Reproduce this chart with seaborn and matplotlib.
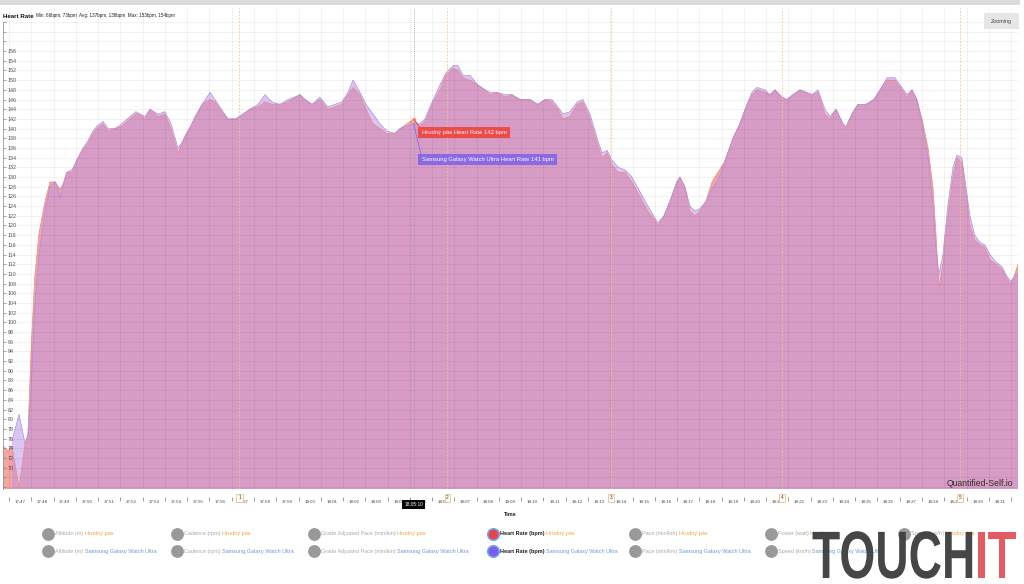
import numpy as np
import pandas as pd
import matplotlib
matplotlib.use("Agg")
import matplotlib.pyplot as plt
from matplotlib.patches import Rectangle
from matplotlib.lines import Line2D
from matplotlib.patheffects import AbstractPathEffect
import matplotlib.transforms as mtransforms
import seaborn as sns

# ---------------- data (minutes after 17:47:00) ----------------
minutes = [-0.27, -0.04, 0.13, 0.45, 0.72, 0.85, 0.99, 1.15, 1.35, 1.62, 1.84, 2.07, 2.20, 2.29, 2.42,
           2.60, 2.83, 3.10, 3.32, 3.55, 3.77, 3.95, 4.22, 4.45, 4.76, 5.07, 5.43, 5.70, 5.88, 6.11,
           6.33, 6.69, 7.00, 7.27, 7.59, 7.90, 8.35, 8.67, 9.03, 9.25, 9.47, 9.83, 10.19, 10.51, 10.82,
           11.18, 11.50, 11.81, 12.17, 12.53, 12.84, 13.07, 13.29, 13.61, 13.96, 14.32, 14.64, 14.95,
           15.22, 15.45, 15.76, 16.03, 16.35, 16.66, 16.97, 17.33, 17.56, 17.87, 18.17, 18.45, 18.68,
           19.00, 19.35, 19.62, 19.94, 20.16, 20.39, 20.70, 21.06, 21.37, 21.60, 21.91, 22.27, 22.59,
           22.95, 23.39, 23.75, 24.07, 24.38, 24.65, 24.88, 25.19, 25.51, 25.77, 26.09, 26.41, 26.63,
           26.86, 27.08, 27.35, 27.66, 27.97, 28.33, 28.69, 29.01, 29.14, 29.41, 29.68, 29.99, 30.13,
           30.35, 30.58, 30.80, 31.03, 31.30, 31.57, 31.84, 32.11, 32.51, 32.82, 33.14, 33.36, 33.59,
           33.95, 34.17, 34.40, 34.71, 34.93, 35.20, 35.52, 35.79, 36.06, 36.33, 36.64, 36.87, 37.14,
           37.45, 37.59, 37.85, 38.12, 38.48, 38.84, 39.11, 39.43, 39.78, 40.10, 40.32, 40.55, 40.77,
           41.00, 41.27, 41.49, 41.63, 41.76, 41.94, 42.16, 42.39, 42.57, 42.79, 42.97, 43.15, 43.37,
           43.60, 43.82, 44.05, 44.32, 44.59, 44.81, 44.99, 45.17, 45.31]

hr_chest = [74.5, 73.5, 74.5, 66, 75, 77, 94, 109, 118.5, 125, 129, 129, 128, 127.5, 128.5,
            131, 131, 134, 135.6, 137, 139, 140, 141, 139.5, 140, 140.5, 142, 143, 143, 142,
            144, 142.5, 143, 140, 135, 138.5, 142, 145, 146, 145.5, 144, 142, 142, 143, 144,
            144.5, 145.5, 145, 145, 145.5, 146.5, 147, 146, 145, 146, 144, 144.5, 145,
            147, 148.5, 147, 144, 141, 140, 139, 139, 140, 141, 142, 140.5, 141.5,
            145, 148, 151, 152.5, 152, 150.5, 150, 149, 148, 147, 147.5, 146.5, 147,
            146, 146, 145, 146, 145.5, 144, 142, 142.5, 145, 145.5, 142, 137, 134,
            135, 132.5, 131, 131, 129, 126, 123, 121, 120, 122, 125, 129, 130,
            128, 123, 122, 123, 125, 129, 131, 133, 138, 141, 145, 147, 148,
            147.5, 147, 148, 146.5, 146, 147, 148, 147.5, 147, 147.5, 143, 142, 144,
            141, 140, 143, 145, 145, 146, 148, 150, 150, 148, 146.5, 148, 146,
            142, 136, 128, 118, 107, 112, 122, 130, 134, 133, 127, 120, 117,
            116, 115.5, 113, 112, 111, 109, 108, 110, 112]

hr_watch = [np.nan, np.nan, 75.5, 81, 75, 76.5, 86, 103, 114, 123, 128, 129, 128, 125.5, 128,
            131, 131.5, 134, 136, 137.5, 139.5, 140.5, 141.5, 140, 140, 141, 142.5, 143.5, 143, 142.5,
            144, 143, 143.5, 141, 136, 138, 142.5, 145, 147.5, 146, 144.5, 142, 142, 143, 144,
            145, 147, 145.5, 145, 146, 146.5, 147, 146, 145, 146.5, 144.5, 145, 145.5,
            147.5, 150, 147.5, 145, 143, 141, 139.5, 139, 140, 140.5, 141, 141, 142,
            145.5, 149, 151.5, 153, 153, 151, 151, 149, 148, 147.5, 147.5, 147, 147,
            146, 146, 145, 146, 146, 144.5, 143, 143.5, 145.5, 146, 143, 138, 135,
            135.5, 133.5, 132, 131.5, 130, 127, 124, 121.5, 120.5, 122, 125, 129, 130,
            128, 124, 123, 123.5, 125, 127.5, 129.5, 132.5, 138, 141, 145, 147.5, 148.5,
            148, 147, 148, 146.5, 146, 147, 148, 147.5, 147, 148, 144, 142.5, 144,
            141, 140.5, 143, 145, 145, 146, 148, 150.5, 150.5, 148.5, 147, 148, 146,
            141, 134, 124, 115, 110, 114, 124, 132, 134.5, 134, 128, 122, 118,
            116.5, 116, 114, 112.5, 111.5, 109.5, 108.5, 109.5, 110]

x_labels = ["17:47", "17:48", "17:49", "17:50", "17:51", "17:52", "17:53", "17:54", "17:55", "17:56",
            "17:57", "17:58", "17:59", "18:00", "18:01", "18:02", "18:03", "18:04", "18:05", "18:06",
            "18:07", "18:08", "18:09", "18:10", "18:11", "18:12", "18:13", "18:14", "18:15", "18:16",
            "18:17", "18:18", "18:19", "18:20", "18:21", "18:22", "18:23", "18:24", "18:25", "18:26",
            "18:27", "18:28", "18:29", "18:30", "18:31"]
y_labeled = list(range(70, 157, 2))
y_unlabeled = [66, 68, 158, 160, 162]

lap_minutes = [10.35, 19.69, 27.03, 34.71, 42.70]
lap_names = ["1", "2", "3", "4", "5"]
cursor_minute = 18.17
cursor_label = "18:05:10"
cursor_chest = 142
cursor_watch = 141

title_main = "Heart Rate"
title_stats = "Min: 66bpm, 73bpm  Avg: 137bpm, 138bpm  Max: 153bpm, 154bpm"
legend_metrics = ["Altitude (m)", "Cadence (rpm)", "Grade Adjusted Pace (min/km)", "Heart Rate (bpm)",
                  "Pace (min/km)", "Power (watt)", "Speed (km/h)"]
legend_row2 = ["Altitude (m)", "Cadence (rpm)", "Grade Adjusted Pace (min/km)", "Heart Rate (bpm)",
               "Pace (min/km)", "Speed (km/h)"]
device_a = "Hrudný pás"
device_b = "Samsung Galaxy Watch Ultra"

# ---------------- style ----------------
sns.set_theme(style="white")
plt.rcParams['font.family'] = ['Liberation Sans', 'DejaVu Sans']

W, H = 1024, 584
fig = plt.figure(figsize=(W / 100, H / 100), dpi=100)
fig.patch.set_facecolor("white")
L, T, R, B = 3, 8, 1018, 489
ax = fig.add_axes([L / W, 1 - B / H, (R - L) / W, (B - T) / H])
ax.set_facecolor("white")

df = pd.DataFrame({"minute": minutes, "chest": hr_chest, "watch": hr_watch})
mw = df["watch"].notna()

chest_fill = (238 / 255, 90 / 255, 80 / 255)
watch_fill = (190 / 255, 150 / 255, 232 / 255)
ax.fill_between(df["minute"], 0, df["chest"], color=chest_fill, alpha=0.55, lw=0, zorder=1)
ax.fill_between(df["minute"][mw], 0, df["watch"][mw], color=watch_fill, alpha=0.55, lw=0, zorder=1.1)
sns.lineplot(data=df, x="minute", y="chest", color="#f08a80", lw=0.5, ax=ax, zorder=2,
             estimator=None, sort=False)
sns.lineplot(data=df[mw], x="minute", y="watch", color="#a990ea", lw=0.5, ax=ax, zorder=2.1,
             estimator=None, sort=False)

ax.set_xlim(-0.27, 45.31)
ax.set_ylim(65.6, 164.9)
ax.set_xlabel("")
ax.set_ylabel("")
ax.set_axisbelow(False)

for s in ["top", "right"]:
    ax.spines[s].set_visible(False)
ax.spines["left"].set_color("#9a9a9a")
ax.spines["left"].set_linewidth(0.6)
ax.spines["left"].set_bounds(65.6, 162)
ax.spines["bottom"].set_position(("outward", 6))
ax.spines["bottom"].set_visible(False)
ax.axhline(65.6, color="#9a9a9a", lw=0.8, zorder=3)

ax.set_xticks(list(range(0, 46)))
ax.set_xticklabels([])
ax.set_xticks([i + 0.5 for i in range(len(x_labels))], minor=True)
ax.set_xticklabels(x_labels, minor=True, fontsize=3.2, color="#444444")
ax.tick_params(axis="x", which="major", direction="out", length=3, width=0.5, color="#777777",
               bottom=True)
ax.tick_params(axis="x", which="minor", length=0, pad=2.0, bottom=True)

yt = sorted(y_labeled + y_unlabeled)
ax.set_yticks(yt)
ax.set_yticklabels([str(v) if v in y_labeled else "" for v in yt], fontsize=3.9, color="#555555")
ax.tick_params(axis="y", which="major", direction="in", length=2.5, width=0.5, color="#888888",
               pad=-3.2, left=True)
for lab in ax.get_yticklabels():
    lab.set_horizontalalignment("left")

ax.grid(True, which="major", axis="both", color="#000000", alpha=0.07, lw=0.5)

# lap markers
trans_lap = mtransforms.blended_transform_factory(ax.transData, ax.transAxes)
for lm, ln in zip(lap_minutes, lap_names):
    ax.axvline(lm, color="#efc48c", lw=0.6, ls=(0, (2, 2)), zorder=2.6)
    ax.text(lm, -0.018, ln, transform=trans_lap, ha="center", va="center", fontsize=3.4,
            color="#333333", zorder=5, clip_on=False,
            bbox=dict(boxstyle="square,pad=0.35", fc="white", ec="#f0b070", lw=0.5))

# cursor
ax.axvline(cursor_minute, color="#999999", lw=0.6, ls=(0, (1, 1.5)), zorder=2.7)
ax.text(cursor_minute, -0.032, cursor_label, transform=trans_lap, ha="center", va="center",
        fontsize=3.4, color="white", zorder=6, clip_on=False,
        bbox=dict(boxstyle="square,pad=0.5", fc="black", ec="none"))
ax.plot([cursor_minute], [cursor_chest], marker="s", ms=1.6, color="#f6a36a", zorder=6)
ax.annotate("Hrudný pás Heart Rate 142 bpm", xy=(cursor_minute, cursor_chest),
            xytext=(8, -11), textcoords="offset pixels", ha="left", va="top", fontsize=4.2,
            color="white", zorder=7,
            bbox=dict(boxstyle="square,pad=0.55", fc="#ee4a4a", ec="none"),
            arrowprops=dict(arrowstyle="-", color="#ee4a4a", lw=0.6, shrinkA=0, shrinkB=0,
                            relpos=(0, 1)))
ax.annotate("Samsung Galaxy Watch Ultra Heart Rate 141 bpm", xy=(cursor_minute, cursor_watch),
            xytext=(8, -33), textcoords="offset pixels", ha="left", va="top", fontsize=4.2,
            color="white", zorder=7,
            bbox=dict(boxstyle="square,pad=0.55", fc="#8a68e6", ec="none"),
            arrowprops=dict(arrowstyle="-", color="#8a68e6", lw=0.6, shrinkA=0, shrinkB=0,
                            relpos=(0, 1)))

ax.text(0.995, 0.012, "Quantified-Self.io", transform=ax.transAxes, ha="right", va="center",
        fontsize=6.2, color="#2e2e2e", zorder=6)

# ---------------- figure-level decorations ----------------
def fx(x):
    return x / W


def fy(y):
    return 1 - y / H


fig.patches.append(Rectangle((0, fy(5)), fx(1020), 5 / H, transform=fig.transFigure,
                             fc="#dcdcdc", ec="none", zorder=0))
fig.patches.append(Rectangle((fx(984), fy(29)), fx(35), 16 / H, transform=fig.transFigure,
                             fc="#e6e6e6", ec="none", zorder=5))
fig.text(fx(1001.5), fy(21), "Zooming", ha="center", va="center", fontsize=3.9, color="#444444",
         zorder=6)
fig.text(fx(510), fy(514), "Time", ha="center", va="center", fontsize=4.0, fontweight="bold",
         color="#222222")

renderer = fig.canvas.get_renderer()


def seq_text(x_px, y_px, parts, gap=2.0, zorder=6, va="center"):
    x = x_px
    out = []
    for s, kw in parts:
        t = fig.text(fx(x), fy(y_px), s, ha="left", va=va, zorder=zorder, **kw)
        bb = t.get_window_extent(renderer)
        x += bb.width + gap
        out.append(t)
    return out


seq_text(3, 16, [(title_main, dict(fontsize=4.4, fontweight="bold", color="#111111")),
                 (title_stats, dict(fontsize=3.3, color="#222222"))], gap=2.0)

# legend
row1_x = [48, 177, 314, 493, 635, 771, 904]
row_y = [534, 551]
for i, name in enumerate(legend_metrics):
    active = name.startswith("Heart")
    if active:
        fig.add_artist(Line2D([fx(row1_x[i])], [fy(row_y[0])], marker="o", ms=8.2, mfc="#e94545",
                              mec="#6ea2ea", mew=1.2, transform=fig.transFigure, ls="none"))
    else:
        fig.add_artist(Line2D([fx(row1_x[i])], [fy(row_y[0])], marker="o", ms=8.2, mfc="#999999",
                              mec="#999999", transform=fig.transFigure, ls="none"))
    seq_text(row1_x[i] + 7, row_y[0],
             [(name, dict(fontsize=4.0, color="#222222" if active else "#aaaaaa",
                          fontweight="bold" if active else "normal")),
              (device_a, dict(fontsize=4.0, color="#f2a23c"))], gap=1.5)
for i, name in enumerate(legend_row2):
    active = name.startswith("Heart")
    if active:
        fig.add_artist(Line2D([fx(row1_x[i])], [fy(row_y[1])], marker="o", ms=8.2, mfc="#7c5cf0",
                              mec="#6ea2ea", mew=1.2, transform=fig.transFigure, ls="none"))
    else:
        fig.add_artist(Line2D([fx(row1_x[i])], [fy(row_y[1])], marker="o", ms=8.2, mfc="#999999",
                              mec="#999999", transform=fig.transFigure, ls="none"))
    seq_text(row1_x[i] + 7, row_y[1],
             [(name, dict(fontsize=4.0, color="#222222" if active else "#aaaaaa",
                          fontweight="bold" if active else "normal")),
              (device_b, dict(fontsize=4.0, color="#6b9ad8"))], gap=1.5)


# watermark: a condensed look made by stretching the glyph outlines vertically
class VStretch(AbstractPathEffect):
    def __init__(self, sy, y0):
        super().__init__()
        self.sy = sy
        self.y0 = y0

    def draw_path(self, renderer, gc, tpath, affine, rgbFace=None):
        extra = mtransforms.Affine2D().translate(0, -self.y0).scale(1, self.sy).translate(0, self.y0)
        renderer.draw_path(gc, tpath, affine + extra, rgbFace)


wm_family = ["Liberation Sans", "DejaVu Sans"]
probe = fig.text(0, 0, "TOUCHIT", fontsize=40, fontweight="bold", family=wm_family)
pw = probe.get_window_extent(renderer).width
probe.remove()
wm_size = 40 * 204 / pw
cap_px = 0.716 * wm_size * 100 / 72
baseline_y = 578
stretch = VStretch(48.0 / cap_px, H - baseline_y)
wm = seq_text(812, baseline_y,
              [("TOUCH", dict(fontsize=wm_size, fontweight="bold", color="#3c3c3c",
                              family=wm_family, alpha=0.95)),
               ("IT", dict(fontsize=wm_size, fontweight="bold", color="#e2535b",
                           family=wm_family, alpha=0.95))],
              gap=0, zorder=10, va="baseline")
for t in wm:
    t.set_path_effects([stretch])

fig.savefig("out.png", dpi=100, facecolor="white")
